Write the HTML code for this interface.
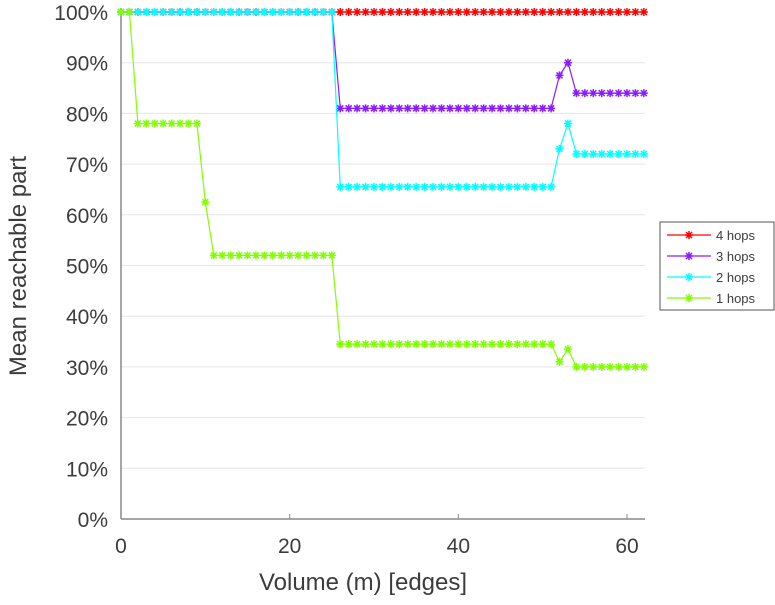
<!DOCTYPE html>
<html><head><meta charset="utf-8"><style>
body{margin:0;background:#fff;}
svg text{font-family:"Liberation Sans",sans-serif;fill:#3c3c3c;}
</style></head><body>
<svg id="c" width="775" height="600"></svg>
<script>
const xs = [];for(let i=0;i<=62;i++)xs.push(i);
const hops4 = Array(63).fill(100);
const hops3 = [].concat(Array(26).fill(100),Array(26).fill(81),[87.5,90],Array(9).fill(84));
const hops2 = [].concat(Array(26).fill(100),Array(26).fill(65.5),[73,78],Array(9).fill(72));
const hops1 = [].concat([100,100],Array(8).fill(78),[62.5],Array(15).fill(52),Array(26).fill(34.5),[31,33.5],Array(9).fill(30));
const seriesNames = ["4 hops","3 hops","2 hops","1 hops"];
const yTicks = [0,10,20,30,40,50,60,70,80,90,100];
const xTicks = [0,20,40,60];
const colors = ["#ff0000","#8a1cff","#00ffff","#80ff00"];
const X0=121,X1=645,Y0=519,Y1=12;
const sx=v=>X0+v*(627-X0)/60, sy=v=>Y0-v*(Y0-Y1)/100;
const svg=document.getElementById('c');const NS="http://www.w3.org/2000/svg";
function mk(t,a,p){const e=document.createElementNS(NS,t);for(const k in a)e.setAttribute(k,a[k]);(p||svg).appendChild(e);return e;}
yTicks.forEach(t=>{
  if(t>0){const g=mk('line',{x1:X0,x2:X1,y1:sy(t),y2:sy(t),stroke:'#e6e6e6'});
  
  }
  const l=mk('text',{x:108,y:sy(t)+8,'text-anchor':'end','font-size':21});l.textContent=t+'%';
  
  
});
xTicks.forEach(t=>{
  const l=mk('text',{x:sx(t),y:553,'text-anchor':'middle','font-size':21});l.textContent=t;
  
  
  mk('line',{x1:sx(t),x2:sx(t),y1:Y0,y2:Y0-5,stroke:'#888'});
});
mk('line',{x1:X0,x2:X0,y1:Y1,y2:Y0,stroke:'#888','stroke-width':1.5});
mk('line',{x1:X0,x2:X1,y1:Y0,y2:Y0,stroke:'#888','stroke-width':1.5});
const xt=mk('text',{x:363,y:590,'text-anchor':'middle','font-size':24});xt.textContent='Volume (m) [edges]';


const yt=mk('text',{x:0,y:0,'text-anchor':'middle','font-size':24,transform:'translate(26,266) rotate(-90)'});yt.textContent='Mean reachable part';


function star(g,x,y,c){const r=4;
  mk('path',{d:`M${x-r},${y}H${x+r}M${x},${y-r}V${y+r}M${x-3},${y-3}L${x+3},${y+3}M${x-3},${y+3}L${x+3},${y-3}`,stroke:c,'stroke-width':1.5},g);}
[hops4,hops3,hops2,hops1].forEach((d,i)=>{
  const g=mk('g',{});
  
  
  mk('polyline',{points:d.map((v,j)=>sx(xs[j])+','+sy(v)).join(' '),fill:'none',stroke:colors[i],'stroke-width':1.2},g);
  d.forEach((v,j)=>star(g,sx(xs[j]),sy(v),colors[i]));
});
const lg=mk('g',{});


mk('rect',{x:660,y:222,width:114,height:88,fill:'#fff',stroke:'#555','stroke-width':1},lg);
seriesNames.forEach((n,i)=>{
  const y=235+i*21;
  const e=mk('g',{},lg);
  
  
  mk('line',{x1:667,x2:711,y1:y,y2:y,stroke:colors[i],'stroke-width':1.2},e);
  star(e,689,y,colors[i]);
  const t=mk('text',{x:716,y:y+5,'font-size':13},e);t.textContent=n;
});
</script>
</body></html>
